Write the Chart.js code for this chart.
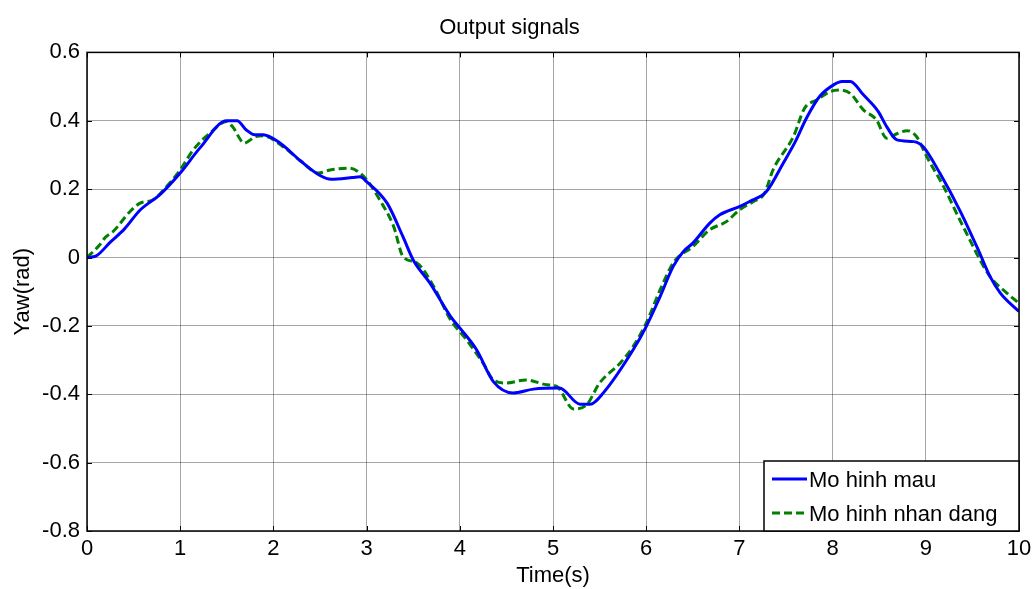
<!DOCTYPE html>
<html>
<head>
<meta charset="utf-8">
<script src="https://cdn.jsdelivr.net/npm/chart.js@4/dist/chart.umd.min.js"></script>
<style>
  html, body { margin: 0; padding: 0; background: #fff; }
  #wrap { width: 1034px; height: 589px; }
</style>
</head>
<body>
<div id="wrap"><canvas id="chart" width="1034" height="589"></canvas></div>
<script>
// data
const chartTitle = "Output signals";
const xTitle = "Time(s)";
const yTitle = "Yaw(rad)";
const seriesNames = ["Mo hinh mau", "Mo hinh nhan dang"];

const tMau = [0, 0.1, 0.25, 0.4, 0.57, 0.78, 1.0, 1.21, 1.5, 1.61, 1.71, 1.8, 1.89, 2.07, 2.29, 2.5, 2.62, 2.85, 2.93, 3.0,
  3.22, 3.39, 3.5, 3.68, 3.9, 4.0, 4.18, 4.36, 4.57, 4.79, 5.07, 5.29, 5.4, 5.54, 5.86, 6.0, 6.15, 6.29, 6.4, 6.5,
  6.68, 6.79, 7.0, 7.11, 7.29, 7.47, 7.6, 7.72, 7.86, 8.01, 8.1, 8.19, 8.33, 8.49, 8.58, 8.69, 8.87, 8.97, 9.15, 9.37,
  9.57, 9.69, 9.8, 10];
const yMau = [0, 0.005, 0.045, 0.083, 0.139, 0.183, 0.247, 0.32, 0.4, 0.4, 0.373, 0.359, 0.359, 0.335, 0.283, 0.24, 0.229, 0.234, 0.236, 0.222,
  0.159, 0.061, -0.007, -0.075, -0.172, -0.206, -0.27, -0.363, -0.396, -0.385, -0.382, -0.429, -0.429, -0.396, -0.27, -0.202, -0.114, -0.026, 0.018, 0.042,
  0.1, 0.125, 0.149, 0.164, 0.193, 0.276, 0.339, 0.408, 0.471, 0.505, 0.515, 0.515, 0.476, 0.427, 0.383, 0.344, 0.339, 0.325, 0.247, 0.135,
  0.018, -0.056, -0.104, -0.158];

const tNhanDang = [0, 0.13, 0.2, 0.28, 0.46, 0.57, 0.71, 0.855, 1.0, 1.14, 1.32, 1.5, 1.56, 1.69, 1.81, 1.89, 2.1, 2.32, 2.48, 2.61,
  2.82, 2.93, 3.0, 3.14, 3.29, 3.39, 3.54, 3.72, 3.9, 4.07, 4.25, 4.36, 4.5, 4.71, 4.93, 5.04, 5.22, 5.36, 5.5, 5.72,
  5.86, 6.0, 6.15, 6.3, 6.5, 6.68, 6.86, 7.0, 7.15, 7.27, 7.36, 7.58, 7.7, 7.83, 7.97, 8.08, 8.19, 8.33, 8.47, 8.58,
  8.69, 8.8, 8.9, 9.01, 9.19, 9.4, 9.69, 9.87, 10];
const yNhanDang = [0, 0.035, 0.06, 0.076, 0.134, 0.159, 0.169, 0.208, 0.256, 0.315, 0.364, 0.398, 0.383, 0.335, 0.354, 0.356, 0.325, 0.276, 0.247, 0.256,
  0.261, 0.247, 0.228, 0.169, 0.091, 0.003, -0.016, -0.085, -0.182, -0.24, -0.309, -0.358, -0.367, -0.358, -0.372, -0.377, -0.443, -0.431, -0.367, -0.309,
  -0.26, -0.192, -0.094, -0.012, 0.032, 0.081, 0.105, 0.139, 0.164, 0.188, 0.256, 0.354, 0.437, 0.461, 0.485, 0.49, 0.48, 0.432, 0.403, 0.349,
  0.362, 0.371, 0.354, 0.295, 0.208, 0.091, -0.056, -0.104, -0.134];

const xTicks = [0, 1, 2, 3, 4, 5, 6, 7, 8, 9, 10];
const yTicks = [-0.8, -0.6, -0.4, -0.2, 0, 0.2, 0.4, 0.6];

const FONT = "'Liberation Sans', Arial, sans-serif";
const FS = 22;
const colMau = "#0000ff";
const colNhanDang = "#007f00";

const toPoints = (xs, ys) => xs.map((x, i) => ({ x: x, y: ys[i] }));

// frame + inward ticks (MATLAB style)
const framePlugin = {
  id: "frame",
  afterDraw(chart) {
    const { ctx, chartArea: a, scales } = chart;
    ctx.save();
    ctx.strokeStyle = "#000";
    ctx.lineWidth = 1;
    xTicks.forEach(v => {
      const px = Math.round(scales.x.getPixelForValue(v)) + 0.5;
      ctx.beginPath();
      ctx.moveTo(px, a.top); ctx.lineTo(px, a.top + 5);
      ctx.moveTo(px, a.bottom); ctx.lineTo(px, a.bottom - 5);
      ctx.stroke();
    });
    yTicks.forEach(v => {
      const py = Math.round(scales.y.getPixelForValue(v)) + 0.5;
      ctx.beginPath();
      ctx.moveTo(a.left, py); ctx.lineTo(a.left + 5, py);
      ctx.moveTo(a.right, py); ctx.lineTo(a.right - 5, py);
      ctx.stroke();
    });
    ctx.lineWidth = 1.5;
    ctx.strokeRect(a.left, a.top, a.right - a.left, a.bottom - a.top);
    ctx.restore();
  }
};

// legend box in the lower right corner of the plot
const legendPlugin = {
  id: "boxLegend",
  afterDraw(chart) {
    const { ctx, chartArea: a } = chart;
    const w = 255, h = 70;
    const x0 = a.right - w, y0 = a.bottom - h;
    ctx.save();
    ctx.fillStyle = "#fff";
    ctx.fillRect(x0, y0, w, h);
    ctx.strokeStyle = "#000";
    ctx.lineWidth = 1.5;
    ctx.strokeRect(x0, y0, w, h);
    ctx.font = FS + "px " + FONT;
    ctx.textBaseline = "middle";
    chart.data.datasets.forEach((ds, i) => {
      const yy = y0 + 18 + i * 34;
      ctx.strokeStyle = ds.borderColor;
      ctx.lineWidth = 3;
      ctx.setLineDash(ds.borderDash || []);
      ctx.beginPath();
      ctx.moveTo(x0 + 8, yy);
      ctx.lineTo(x0 + 43, yy);
      ctx.stroke();
      ctx.setLineDash([]);
      ctx.fillStyle = "#000";
      ctx.fillText(ds.label, x0 + 45, yy + 2);
    });
    ctx.restore();
  }
};

new Chart(document.getElementById("chart").getContext("2d"), {
  type: "line",
  data: {
    datasets: [
      {
        label: seriesNames[0],
        data: toPoints(tMau, yMau),
        borderColor: colMau,
        borderWidth: 3,
        pointRadius: 0,
        cubicInterpolationMode: "monotone",
        fill: false
      },
      {
        label: seriesNames[1],
        data: toPoints(tNhanDang, yNhanDang),
        borderColor: colNhanDang,
        borderWidth: 3,
        borderDash: [8, 4],
        pointRadius: 0,
        cubicInterpolationMode: "monotone",
        fill: false
      }
    ]
  },
  options: {
    responsive: false,
    animation: false,
    layout: { padding: { left: 0, right: 15, top: 0, bottom: 0 } },
    plugins: {
      legend: { display: false },
      tooltip: { enabled: false },
      title: {
        display: true,
        text: chartTitle,
        color: "#000",
        font: { family: FONT, size: FS, weight: "normal" },
        padding: { top: 15, bottom: 11 }
      }
    },
    scales: {
      x: {
        type: "linear",
        min: 0,
        max: 10,
        afterBuildTicks: s => { s.ticks = xTicks.map(v => ({ value: v })); },
        afterFit: s => { s.height = 58; s.paddingRight = 0; s.paddingLeft = 0; },
        grid: { color: "rgba(0,0,0,0.35)", drawTicks: false },
        border: { display: false },
        ticks: {
          color: "#000",
          font: { family: FONT, size: FS },
          padding: 5,
          maxRotation: 0
        },
        title: {
          display: true,
          text: xTitle,
          color: "#000",
          font: { family: FONT, size: FS },
          padding: { top: 0, bottom: 0 }
        }
      },
      y: {
        type: "linear",
        min: -0.8,
        max: 0.6,
        afterBuildTicks: s => { s.ticks = yTicks.map(v => ({ value: v })); },
        afterFit: s => { s.width = 87; },
        grid: { color: "rgba(0,0,0,0.35)", drawTicks: false },
        border: { display: false },
        ticks: {
          color: "#000",
          font: { family: FONT, size: FS },
          padding: 7,
          callback: v => String(+v.toFixed(1))
        },
        title: {
          display: true,
          text: yTitle,
          color: "#000",
          font: { family: FONT, size: FS },
          padding: { top: 10, bottom: 0 }
        }
      }
    }
  },
  plugins: [framePlugin, legendPlugin]
});
</script>
</body>
</html>
